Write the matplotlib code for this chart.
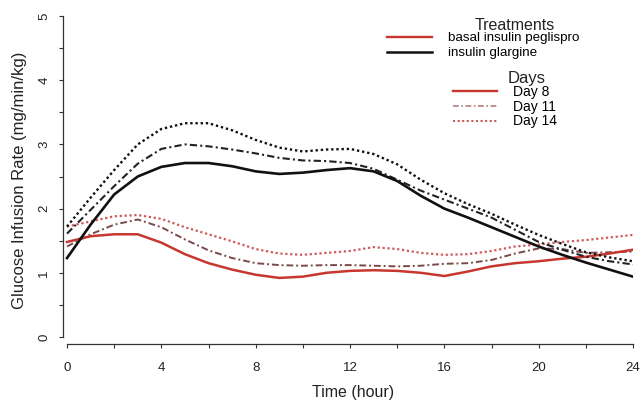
import matplotlib
matplotlib.use('Agg')
from matplotlib import pyplot as plt
from matplotlib.lines import Line2D
from matplotlib.ticker import MultipleLocator

plt.rcParams['font.family'] = ['Liberation Sans', 'DejaVu Sans']

# hours after dosing
hours = [0, 1, 2, 3, 4, 5, 6, 7, 8, 9, 10, 11, 12,
         13, 14, 15, 16, 17, 18, 19, 20, 21, 22, 23, 24]

# basal insulin peglispro (red)
peg_day8 = [1.48, 1.57, 1.60, 1.60, 1.47, 1.29, 1.15, 1.05, 0.97, 0.92, 0.94, 1.00, 1.03,
            1.04, 1.03, 1.00, 0.95, 1.02, 1.10, 1.15, 1.18, 1.22, 1.25, 1.30, 1.36]
peg_day11 = [1.41, 1.60, 1.75, 1.83, 1.71, 1.52, 1.35, 1.23, 1.15, 1.12, 1.11, 1.12, 1.12,
             1.11, 1.10, 1.11, 1.14, 1.15, 1.20, 1.30, 1.38, 1.37, 1.31, 1.32, 1.33]
peg_day14 = [1.72, 1.80, 1.88, 1.90, 1.84, 1.71, 1.60, 1.49, 1.37, 1.30, 1.28, 1.31, 1.34,
             1.40, 1.37, 1.31, 1.28, 1.29, 1.34, 1.41, 1.44, 1.48, 1.51, 1.55, 1.59]

# insulin glargine (black)
gla_day8 = [1.23, 1.75, 2.22, 2.50, 2.65, 2.71, 2.71, 2.66, 2.58, 2.54, 2.56, 2.60, 2.63,
            2.58, 2.43, 2.20, 2.00, 1.86, 1.71, 1.56, 1.41, 1.28, 1.16, 1.05, 0.94]
gla_day11 = [1.61, 1.98, 2.35, 2.70, 2.93, 3.00, 2.97, 2.92, 2.86, 2.79, 2.75, 2.74, 2.71,
             2.62, 2.45, 2.28, 2.14, 2.00, 1.86, 1.67, 1.48, 1.36, 1.25, 1.18, 1.13]
gla_day14 = [1.72, 2.17, 2.60, 3.00, 3.24, 3.33, 3.33, 3.22, 3.07, 2.95, 2.89, 2.92, 2.93,
             2.85, 2.69, 2.45, 2.24, 2.07, 1.92, 1.75, 1.59, 1.45, 1.32, 1.24, 1.18]

treatments = ['basal insulin peglispro', 'insulin glargine']
days = ['Day 8', 'Day 11', 'Day 14']

red = '#c8372f'
red_light = '#cf5a5a'
black = '#111111'
solid = '-'
dashdot = (0, (3.5, 1.5, 1, 1.5))
dotted = (0, (1, 1.2))

fig = plt.figure(figsize=(6.41, 4.04), dpi=100)
ax = fig.add_axes([63/641, 1 - 344/404, (633 - 63)/641, (344 - 16)/404])

ax.plot(hours, peg_day14, color=red_light, ls=dotted, lw=1.6)
ax.plot(hours, peg_day11, color='#7a4a4a', ls=dashdot, lw=1.4)
ax.plot(hours, peg_day8, color=red, ls=solid, lw=1.8)
ax.plot(hours, gla_day14, color=black, ls=dotted, lw=1.7)
ax.plot(hours, gla_day11, color='#222222', ls=dashdot, lw=1.5)
ax.plot(hours, gla_day8, color=black, ls=solid, lw=1.9)

ax.set_xlim(-0.17, 24.0)
ax.set_ylim(-0.109, 5.0)
for s in ['top', 'right']:
    ax.spines[s].set_visible(False)
ax.spines['left'].set_bounds(0, 5)
ax.spines['bottom'].set_bounds(0, 24)
for s in ['left', 'bottom']:
    ax.spines[s].set_color('#333333')
    ax.spines[s].set_linewidth(0.9)

ax.xaxis.set_major_locator(MultipleLocator(4))
ax.xaxis.set_minor_locator(MultipleLocator(2))
ax.yaxis.set_major_locator(MultipleLocator(1))
ax.yaxis.set_minor_locator(MultipleLocator(0.5))
ax.tick_params(which='both', direction='out', length=3.2, width=0.8, color='#333333')
ax.tick_params(axis='x', which='major', pad=10, labelsize=9.5, labelcolor='#222222')
ax.tick_params(axis='y', which='major', pad=6, labelsize=9.5, labelcolor='#222222')
for lab in ax.get_yticklabels():
    lab.set_rotation(90)
    lab.set_va('center')

ax.set_xlabel('Time (hour)', fontsize=11.5, color='#222222')
ax.xaxis.set_label_coords((353.5 - 63)/570, -(385 - 344)/328)
ax.set_ylabel('Glucose Infusion Rate (mg/min/kg)', fontsize=12, labelpad=8, color='#222222')

# legends
h_treat = [Line2D([], [], color=red, lw=1.7), Line2D([], [], color=black, lw=1.8)]
leg1 = ax.legend(h_treat, treatments, loc='upper left',
                 bbox_to_anchor=(387/641, 1 - 32/404), bbox_transform=fig.transFigure,
                 frameon=False, fontsize=9.6, handlelength=3.4, handletextpad=1.15,
                 labelspacing=0.2, borderpad=0, borderaxespad=0)
ax.add_artist(leg1)

h_days = [Line2D([], [], color=red, ls=solid, lw=1.7),
          Line2D([], [], color='#b08080', ls=dashdot, lw=1.2),
          Line2D([], [], color=red_light, ls=dotted, lw=1.5)]
ax.legend(h_days, days, loc='upper left',
          bbox_to_anchor=(453/641, 1 - 85/404), bbox_transform=fig.transFigure,
          frameon=False, fontsize=10, handlelength=3.2, handletextpad=1.1,
          labelspacing=0.05, borderpad=0, borderaxespad=0)

fig.text(515/641, 1 - 26/404, 'Treatments', ha='center', va='center', fontsize=11.5, color='#222222')
fig.text(527/641, 1 - 78/404, 'Days', ha='center', va='center', fontsize=12, color='#222222')

fig.savefig('out.png', dpi=100)
